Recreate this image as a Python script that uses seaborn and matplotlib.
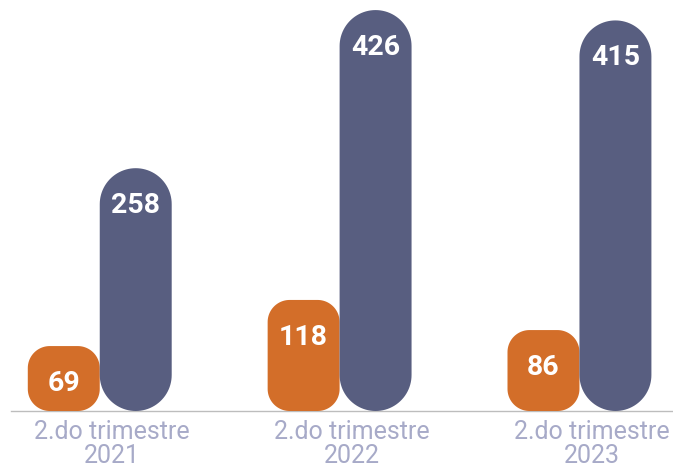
"""
Barras agrupadas com cantos arredondados - 2.do trimestre 2021/2022/2023
"""
import numpy as np
import matplotlib.pyplot as plt
import matplotlib.transforms as mtransforms
from matplotlib.patches import PathPatch
from matplotlib.path import Path
import pandas as pd
import seaborn as sns

# dados
periodos = ['2.do trimestre\n2021', '2.do trimestre\n2022', '2.do trimestre\n2023']
serie_a = [69, 118, 86]
serie_b = [258, 426, 415]

cor_a = '#D36E29'
cor_b = '#585E80'
cor_texto = '#A7AAC8'

df = pd.DataFrame({
    'periodo': periodos * 2,
    'valor': serie_a + serie_b,
    'serie': ['a'] * 3 + ['b'] * 3,
})


def retangulo_arredondado(x, y, w, h, rx, ry, n=24):
    # cantos em arco circular (em pixels), convertidos para unidades de dado
    t = np.linspace(0, np.pi / 2, n)
    cantos = [
        (x + w - rx, y + h - ry, t),                 # sup. direito
        (x + rx, y + h - ry, t + np.pi / 2),         # sup. esquerdo
        (x + rx, y + ry, t + np.pi),                 # inf. esquerdo
        (x + w - rx, y + ry, t + 3 * np.pi / 2),     # inf. direito
    ]
    pts = []
    for cx, cy, ang in cantos:
        pts += list(zip(cx + rx * np.cos(ang), cy + ry * np.sin(ang)))
    pts.append(pts[0])
    codes = [Path.MOVETO] + [Path.LINETO] * (len(pts) - 2) + [Path.CLOSEPOLY]
    return Path(pts, codes)


sns.set_style('white')
plt.rcParams['font.family'] = ['Roboto', 'DejaVu Sans']

fig = plt.figure(figsize=(6.73, 4.67), dpi=100)
ax = fig.add_axes([11 / 673, 56 / 467, 662 / 673, 411 / 467])

sns.barplot(data=df, x='periodo', y='valor', hue='serie', palette=[cor_a, cor_b],
            width=0.6, saturation=1, legend=False, ax=ax)

ax.set_xlim(-0.37, 2.39)
ax.set_ylim(0, 436.7)
fig.canvas.draw()

px = ax.transData.transform([(0, 0), (1, 1)])
px_x = px[1, 0] - px[0, 0]
px_y = px[1, 1] - px[0, 1]

barras = list(ax.patches)
for p in barras:
    x, y = p.get_x(), p.get_y()
    w, h = p.get_width(), p.get_height()
    cor = p.get_facecolor()
    p.remove()
    if abs(cor[0] - 0.83) < 0.05:
        r_px = 22
    else:
        r_px = w * px_x / 2
    caminho = retangulo_arredondado(x, y, w, h, r_px / px_x, r_px / px_y)
    ax.add_patch(PathPatch(caminho, facecolor=cor, edgecolor='none', zorder=2))
    ax.annotate(f'{h:.0f}', (x + w / 2, y + h), xytext=(0, -27),
                textcoords='offset points', ha='center', va='center',
                color='white', fontsize=20.5, fontweight='bold', zorder=3)

for s in ['top', 'right', 'left']:
    ax.spines[s].set_visible(False)
ax.spines['bottom'].set_color('#BDBDBD')
ax.spines['bottom'].set_linewidth(1)
ax.spines['bottom'].set_zorder(1)
ax.set_yticks([])
ax.set_xlabel('')
ax.set_ylabel('')
ax.tick_params(axis='x', length=0, pad=6.5, labelsize=18, labelcolor=cor_texto)
desloc = mtransforms.ScaledTranslation(12 / 100, 0, fig.dpi_scale_trans)
for lbl in ax.get_xticklabels():
    lbl.set_linespacing(1.0)
    lbl.set_transform(lbl.get_transform() + desloc)

plt.savefig('out.png', dpi=100)
